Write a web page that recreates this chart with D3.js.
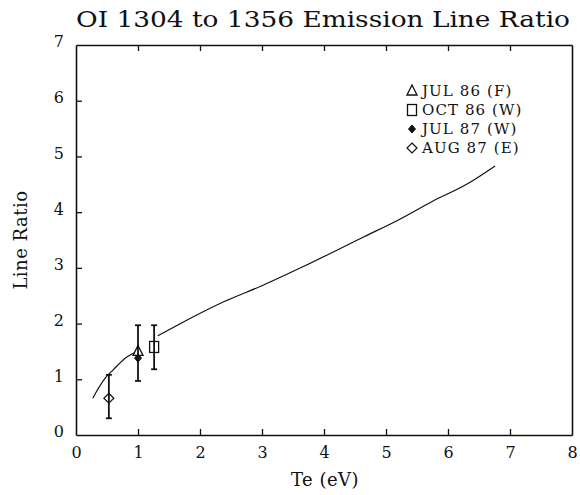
<!DOCTYPE html>
<html><head><meta charset="utf-8">
<script src="https://cdn.jsdelivr.net/npm/d3@7"></script>
<style>
body{margin:0;background:#fff;}
svg{display:block;}
text{font-family:"DejaVu Serif","Liberation Serif",serif;fill:#111;}
</style></head>
<body>
<svg id="chart" width="580" height="495"></svg>
<script>
// ---- data ----
const title = "OI 1304 to 1356 Emission Line Ratio";
const xLabel = "Te (eV)";
const yLabel = "Line Ratio";
const xTicks = [0,1,2,3,4,5,6,7,8];
const yTicks = [0,1,2,3,4,5,6,7];
// model curve (null = gap where the markers sit)
const curveTe    = [0.27,0.47,0.60,0.82,0.95,null,1.32,1.65,2.40,3.00,3.66,4.63,5.20,5.76,6.30,6.76];
const curveRatio = [0.66,1.02,1.17,1.40,1.48,null,1.78,1.98,2.40,2.68,3.02,3.55,3.86,4.20,4.50,4.83];
// measurements
const seriesNames = ["JUL 86 (F)","OCT 86 (W)","JUL 87 (W)","AUG 87 (E)"];
const seriesSymbols = ["triangle","square","filledDiamond","diamond"];
const pointTe    = [1.00, 1.26, 1.00, 0.53];
const pointRatio = [1.50, 1.58, 1.38, 0.66];
const errLow     = [0.97, 1.18, null, 0.30];
const errHigh    = [1.97, 1.97, null, 1.08];

// ---- layout ----
const svg = d3.select("#chart");
const L=76, R=572, T=45, B=435;
const x = d3.scaleLinear().domain([0,8]).range([L,R]);
const y = d3.scaleLinear().domain([0,7]).range([B,T]);

const ink="#111";
// axes
const gx = svg.append("g").attr("transform",`translate(0,${B})`)
  .call(d3.axisBottom(x).tickValues(xTicks).tickFormat(d3.format("d")).tickSizeInner(-6).tickSizeOuter(0).tickPadding(12));
const gy = svg.append("g").attr("transform",`translate(${L},0)`)
  .call(d3.axisLeft(y).tickValues(yTicks).tickFormat(d3.format("d")).tickSizeInner(-6).tickSizeOuter(0).tickPadding(12));
const gt = svg.append("g").attr("transform",`translate(0,${T})`)
  .call(d3.axisTop(x).tickValues(xTicks).tickFormat("").tickSizeInner(-6).tickSizeOuter(0));
const gr = svg.append("g").attr("transform",`translate(${R},0)`)
  .call(d3.axisRight(y).tickValues([]).tickSizeOuter(0));
[gx,gy,gt,gr].forEach(g=>{
  g.select(".domain").attr("stroke",ink).attr("stroke-width",1.6);
  g.selectAll(".tick line").attr("stroke",ink).attr("stroke-width",1.3);
  g.selectAll(".tick text").attr("fill",ink).style("font-size","16px").style("font-family",'"DejaVu Serif",serif');
});
gy.selectAll(".tick text").attr("dy","0.12em");
gt.selectAll(".tick").filter(d=>d===0||d===8).remove();
gx.selectAll(".tick line").filter(d=>d===0||d===8).remove();
gy.selectAll(".tick line").filter(d=>d===0||d===7).remove();

// title & labels
svg.append("text").attr("x",323).attr("y",27).attr("text-anchor","middle")
  .attr("textLength",494).attr("lengthAdjust","spacingAndGlyphs")
  .style("font-size","23px").text(title);
svg.append("text").attr("x",325).attr("y",486).attr("text-anchor","middle")
  .style("font-size","18px").style("letter-spacing","0.5px").text(xLabel);
svg.append("text").attr("transform","translate(27,240) rotate(-90)").attr("text-anchor","middle")
  .style("font-size","18px").style("letter-spacing","0.5px").text(yLabel);

// curve
const curvePts = curveTe.map((t,i)=>[t,curveRatio[i]]);
const line = d3.line().defined(d=>d[0]!==null).x(d=>x(d[0])).y(d=>y(d[1])).curve(d3.curveMonotoneX);
svg.append("path").datum(curvePts).attr("d",line).attr("fill","none").attr("stroke",ink).attr("stroke-width",1.2);

// error bars
const pts = pointTe.map((t,i)=>({t,r:pointRatio[i],lo:errLow[i],hi:errHigh[i],sym:seriesSymbols[i]}));
const eb = svg.append("g").attr("stroke",ink).attr("stroke-width",1.8);
pts.filter(d=>d.lo!==null).forEach(d=>{
  eb.append("line").attr("x1",x(d.t)).attr("x2",x(d.t)).attr("y1",y(d.lo)).attr("y2",y(d.hi));
  [d.lo,d.hi].forEach(v=>eb.append("line").attr("x1",x(d.t)-3).attr("x2",x(d.t)+3).attr("y1",y(v)).attr("y2",y(v)));
});

function drawSymbol(g,sym,cx,cy){
  if(sym==="triangle"){
    g.append("path").attr("d",`M${cx},${cy-6}L${cx+5},${cy+4}L${cx-5},${cy+4}Z`)
      .attr("fill","none").attr("stroke",ink).attr("stroke-width",1.3);
  } else if(sym==="square"){
    g.append("rect").attr("x",cx-4.5).attr("y",cy-5.5).attr("width",9).attr("height",11)
      .attr("fill","none").attr("stroke",ink).attr("stroke-width",1.3);
  } else if(sym==="filledDiamond"){
    g.append("path").attr("d",`M${cx},${cy-4}L${cx+3.5},${cy}L${cx},${cy+4}L${cx-3.5},${cy}Z`)
      .attr("fill",ink).attr("stroke",ink).attr("stroke-width",1);
  } else {
    g.append("path").attr("d",`M${cx},${cy-5}L${cx+5},${cy}L${cx},${cy+5}L${cx-5},${cy}Z`)
      .attr("fill","none").attr("stroke",ink).attr("stroke-width",1.2);
  }
}
const mk = svg.append("g");
pts.forEach(d=>drawSymbol(mk,d.sym,x(d.t),y(d.r)));

// legend
const lg = svg.append("g");
const legendY = [91,110,129,148];
seriesNames.forEach((n,i)=>{
  drawSymbol(lg,seriesSymbols[i],412,legendY[i]);
  lg.append("text").attr("x",422).attr("y",legendY[i]+5).style("font-size","15px")
    .style("letter-spacing","1.1px").text(n);
});
</script>
</body></html>
